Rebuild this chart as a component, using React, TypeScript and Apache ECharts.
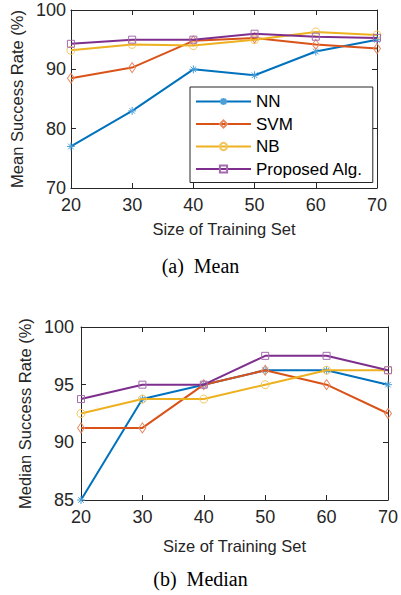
import React, { useEffect, useRef } from "react";
import * as echarts from "echarts";

const trainSizes = [20, 30, 40, 50, 60, 70];
const seriesNames = ["NN", "SVM", "NB", "Proposed Alg."];

const meanNN = [77, 83, 90, 89, 93, 95];
const meanSVM = [88.5, 90.3, 94.8, 95.3, 94.2, 93.5];
const meanNB = [93.2, 94.2, 94, 95, 96.3, 95.8];
const meanProp = [94.3, 95, 95, 96, 95.5, 95.3];

const medNN = [85, 93.75, 95, 96.25, 96.25, 95];
const medSVM = [91.25, 91.25, 95, 96.25, 95, 92.5];
const medNB = [92.5, 93.75, 93.75, 95, 96.25, 96.25];
const medProp = [93.75, 95, 95, 97.5, 97.5, 96.25];

const meanTicks = [70, 80, 90, 100];
const medTicks = [85, 90, 95, 100];

const colors = ["#0072BD", "#D95319", "#EDB120", "#7E2F8E"];
const markerColors = ["#4A9FD8", "#E8875E", "#F2C65C", "#A46AB0"];
const symbols = [
  "path://M0,-5L0,5M-5,0L5,0M-3.5,-3.5L3.5,3.5M-3.5,3.5L3.5,-3.5",
  "diamond",
  "circle",
  "rect",
];
const symbolSizes = [8, [7, 10], 8, 7];

const axisColor = "#262626";
const sansFont = "Liberation Sans";

function pairs(vals: number[]) {
  return trainSizes.map((x, i) => [x, vals[i]]);
}

export default function App() {
  const ref = useRef<HTMLDivElement>(null);
  useEffect(() => {
    if (!ref.current) return;
    const chart = echarts.init(ref.current, undefined, { renderer: "svg" });

    const grids = [
      { left: 69, top: 10, width: 308, height: 178 },
      { left: 81, top: 327, width: 310, height: 173 },
    ];

    const mkX = (gi: number, gap: number, primary: boolean) => ({
      type: "value",
      gridIndex: gi,
      min: 20,
      max: 70,
      interval: 10,
      position: primary ? "bottom" : "top",
      name: primary ? "Size of Training Set" : "",
      nameLocation: "middle",
      nameGap: gap,
      nameTextStyle: { fontFamily: sansFont, fontSize: 16.5, color: axisColor },
      axisLine: { show: true, onZero: false, lineStyle: { color: axisColor, width: 1 } },
      axisTick: { show: true, inside: true, length: 5, lineStyle: { color: axisColor } },
      axisLabel: {
        show: primary,
        fontFamily: sansFont,
        fontSize: 18,
        color: axisColor,
        margin: 8,
      },
      splitLine: { show: false },
    });

    const mkY = (
      gi: number,
      min: number,
      interval: number,
      name: string,
      gap: number,
      primary: boolean,
      margin: number
    ) => ({
      type: "value",
      gridIndex: gi,
      min,
      max: 100,
      interval,
      position: primary ? "left" : "right",
      name: primary ? name : "",
      nameLocation: "middle",
      nameGap: gap,
      nameTextStyle: { fontFamily: sansFont, fontSize: 16.5, color: axisColor },
      axisLine: { show: true, onZero: false, lineStyle: { color: axisColor, width: 1 } },
      axisTick: { show: true, inside: true, length: 5, lineStyle: { color: axisColor } },
      axisLabel: {
        show: primary,
        fontFamily: sansFont,
        fontSize: 18,
        color: axisColor,
        margin,
      },
      splitLine: { show: false },
    });

    const meanData = [meanNN, meanSVM, meanNB, meanProp];
    const medData = [medNN, medSVM, medNB, medProp];

    const mkSeries = (vals: number[], i: number, axisIndex: number) => ({
      type: "line",
      name: seriesNames[i],
      xAxisIndex: axisIndex,
      yAxisIndex: axisIndex,
      data: pairs(vals),
      symbol: symbols[i],
      symbolSize: symbolSizes[i],
      showAllSymbol: true,
      lineStyle: { color: colors[i], width: 2 },
      itemStyle: {
        color: "rgba(255,255,255,0)",
        borderColor: markerColors[i],
        borderWidth: 1,
      },
      emphasis: { disabled: true },
      z: 2 + i,
    });

    const series: any[] = [];
    meanData.forEach((v, i) => series.push(mkSeries(v, i, 0)));
    medData.forEach((v, i) => series.push(mkSeries(v, i, 2)));

    chart.setOption({
      animation: false,
      backgroundColor: "#ffffff",
      grid: grids,
      xAxis: [mkX(0, 32, true), mkX(0, 0, false), mkX(1, 37, true), mkX(1, 0, false)],
      yAxis: [
        mkY(0, meanTicks[0], 10, "Mean Success Rate (%)", 43, true, 5),
        mkY(0, meanTicks[0], 10, "", 0, false, 5),
        mkY(1, medTicks[0], 5, "Median Success Rate (%)", 46, true, 7),
        mkY(1, medTicks[0], 5, "", 0, false, 7),
      ],
      legend: {
        data: seriesNames,
        orient: "vertical",
        left: 190,
        top: 87,
        width: 180,
        itemWidth: 55,
        itemHeight: 9,
        itemGap: 5.5,
        padding: [6, 10, 5, 5],
        backgroundColor: "#ffffff",
        borderColor: axisColor,
        borderWidth: 1,
        borderRadius: 0,
        textStyle: { fontFamily: sansFont, fontSize: 17, lineHeight: 16, color: "#000000" },
        selectedMode: false,
        z: 10,
      },
      graphic: [
        {
          type: "text",
          left: "center",
          top: 256,
          style: {
            text: "(a)  Mean",
            fontFamily: "Liberation Serif",
            fontSize: 20,
            fill: "#000000",
          },
        },
        {
          type: "text",
          left: "center",
          top: 569,
          style: {
            text: "(b)  Median",
            fontFamily: "Liberation Serif",
            fontSize: 20,
            fill: "#000000",
          },
        },
      ],
      series,
    });

    return () => chart.dispose();
  }, []);

  return (
    <div
      ref={ref}
      style={{ position: "fixed", left: 0, top: 0, width: 401, height: 595, background: "#fff" }}
    />
  );
}
